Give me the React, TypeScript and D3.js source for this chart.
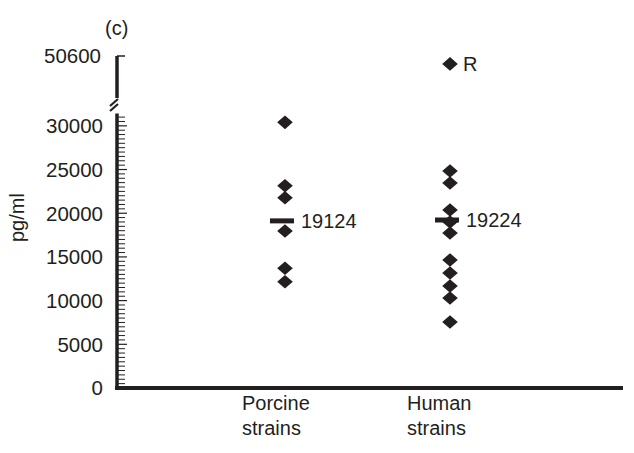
import * as d3 from "d3";
import { useRef, useEffect } from "react";

// data (pg/ml)
const categories = ["Porcine", "Human"];
const porcineValues = [30400, 23150, 21770, 17960, 13700, 12160];
const humanValues = [24830, 23460, 20370, 18990, 17730, 14650, 13160, 11670, 10300, 7550];
const humanOutlier = 49700; // "R"
const means = [19124, 19224];
const majorTicks = [0, 5000, 10000, 15000, 20000, 25000, 30000];
const topTick = 50600;

function App() {
  const chartRef = useRef<SVGSVGElement>(null);
  const width = 634;
  const height = 453;

  useEffect(() => {
    const svg = d3.select(chartRef.current);
    svg.selectAll("*").remove();

    const ink = "#231f20";
    const font = "'Liberation Sans', Arial, Helvetica, sans-serif";
    const axisX = 117;

    const x = d3.scalePoint().domain(categories).range([axisX, 618]).padding(1.018);
    const yLow = d3.scaleLinear().domain([0, 31400]).range([388, 113.6]);
    const yHigh = d3.scaleLinear().domain([45800, 50600]).range([98, 56]);

    // lower axis segment
    svg
      .append("line")
      .attr("x1", axisX)
      .attr("x2", axisX)
      .attr("y1", yLow(0) + 2)
      .attr("y2", yLow.range()[1])
      .attr("stroke", ink)
      .attr("stroke-width", 3.5);

    const minor = d3.range(500, 31001, 500).filter((v) => v % 5000 !== 0);
    svg
      .append("g")
      .selectAll("line")
      .data(minor)
      .join("line")
      .attr("x1", axisX)
      .attr("x2", axisX + 8)
      .attr("y1", (d) => yLow(d))
      .attr("y2", (d) => yLow(d))
      .attr("stroke", ink)
      .attr("stroke-width", 1);

    svg
      .append("g")
      .selectAll("line")
      .data(majorTicks.slice(1))
      .join("line")
      .attr("x1", axisX)
      .attr("x2", axisX + 10)
      .attr("y1", (d) => yLow(d))
      .attr("y2", (d) => yLow(d))
      .attr("stroke", ink)
      .attr("stroke-width", 1.2);

    svg
      .append("g")
      .selectAll("text")
      .data(majorTicks)
      .join("text")
      .attr("x", axisX - 14)
      .attr("y", (d) => yLow(d))
      .attr("dy", "0.36em")
      .attr("text-anchor", "end")
      .attr("font-family", font)
      .attr("font-size", 20.5)
      .attr("fill", ink)
      .text((d) => d);

    // upper axis segment
    svg
      .append("line")
      .attr("x1", axisX)
      .attr("x2", axisX)
      .attr("y1", yHigh(topTick))
      .attr("y2", yHigh.range()[0])
      .attr("stroke", ink)
      .attr("stroke-width", 3.5);
    svg
      .append("line")
      .attr("x1", axisX)
      .attr("x2", axisX + 8)
      .attr("y1", yHigh(topTick))
      .attr("y2", yHigh(topTick))
      .attr("stroke", ink)
      .attr("stroke-width", 1.5);
    svg
      .append("text")
      .attr("x", axisX - 16)
      .attr("y", yHigh(topTick))
      .attr("dy", "0.36em")
      .attr("text-anchor", "end")
      .attr("font-family", font)
      .attr("font-size", 20.5)
      .attr("fill", ink)
      .text(topTick);

    // break marks
    [0, 5].forEach((off) => {
      svg
        .append("line")
        .attr("x1", axisX - 7)
        .attr("y1", 106 + off)
        .attr("x2", axisX + 1)
        .attr("y2", 99 + off)
        .attr("stroke", ink)
        .attr("stroke-width", 2.2);
    });

    // x axis
    svg
      .append("line")
      .attr("x1", axisX - 2)
      .attr("x2", 623)
      .attr("y1", yLow(0))
      .attr("y2", yLow(0))
      .attr("stroke", ink)
      .attr("stroke-width", 4);

    const labels = svg
      .append("g")
      .selectAll("text")
      .data(categories)
      .join("text")
      .attr("font-family", font)
      .attr("font-size", 20)
      .attr("fill", ink);
    labels
      .append("tspan")
      .attr("x", (d) => (x(d) as number) - 43)
      .attr("y", 410)
      .text((d) => d);
    labels
      .append("tspan")
      .attr("x", (d) => (x(d) as number) - 43)
      .attr("y", 435)
      .text("strains");

    // points
    const diamond = "M0,-6.8L7.8,0L0,6.8L-7.8,0Z";
    const pts = [
      ...porcineValues.map((v) => ({ cat: "Porcine", v })),
      ...humanValues.map((v) => ({ cat: "Human", v })),
    ];
    svg
      .append("g")
      .selectAll("path")
      .data(pts)
      .join("path")
      .attr("d", diamond)
      .attr("transform", (d) => `translate(${x(d.cat)},${yLow(d.v)})`)
      .attr("fill", ink);

    svg
      .append("path")
      .attr("d", diamond)
      .attr("transform", `translate(${x("Human")},${yHigh(humanOutlier)})`)
      .attr("fill", ink);
    svg
      .append("text")
      .attr("x", (x("Human") as number) + 13)
      .attr("y", yHigh(humanOutlier))
      .attr("dy", "0.36em")
      .attr("font-family", font)
      .attr("font-size", 20)
      .attr("fill", ink)
      .text("R");

    // means
    const meanG = svg.append("g");
    meanG
      .selectAll("rect")
      .data(means)
      .join("rect")
      .attr("x", (d, i) => (x(categories[i]) as number) - 15)
      .attr("y", (d) => yLow(d) - 2.5)
      .attr("width", 24)
      .attr("height", 5)
      .attr("fill", ink);
    meanG
      .selectAll("text")
      .data(means)
      .join("text")
      .attr("x", (d, i) => (x(categories[i]) as number) + 16)
      .attr("y", (d) => yLow(d))
      .attr("dy", "0.36em")
      .attr("font-family", font)
      .attr("font-size", 20)
      .attr("fill", ink)
      .text((d) => d);

    // panel letter and unit
    svg
      .append("text")
      .attr("x", 105)
      .attr("y", 35)
      .attr("font-family", font)
      .attr("font-size", 20)
      .attr("fill", ink)
      .text("(c)");
    svg
      .append("text")
      .attr("transform", `translate(24,${yLow(19500)}) rotate(-90)`)
      .attr("text-anchor", "middle")
      .attr("font-family", font)
      .attr("font-size", 20)
      .attr("fill", ink)
      .text("pg/ml");
  }, []);

  return (
    <svg
      ref={chartRef}
      width={width}
      height={height}
      viewBox={`0 0 ${width} ${height}`}
      style={{ position: "absolute", left: 0, top: 0, background: "#fff" }}
    />
  );
}

export default App;
